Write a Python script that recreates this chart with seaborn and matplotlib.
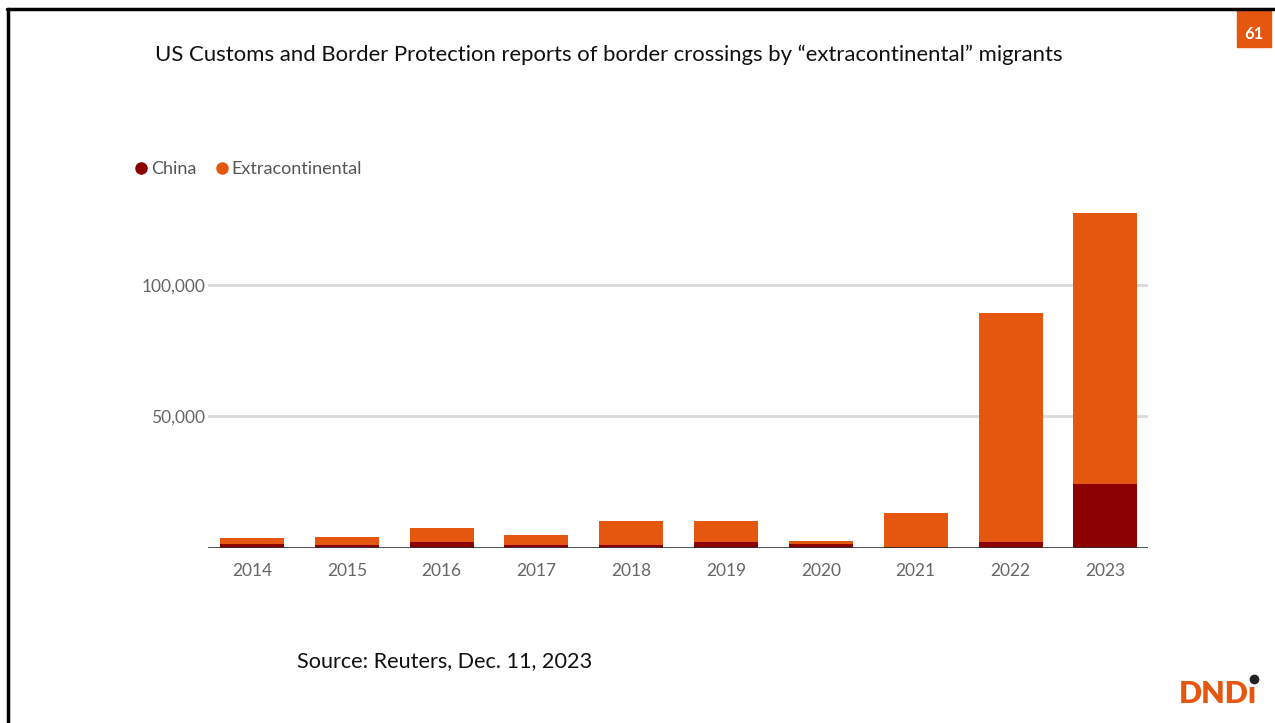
import matplotlib
matplotlib.use("Agg")
import matplotlib.pyplot as plt
from matplotlib.lines import Line2D
import seaborn as sns
import pandas as pd

years = ["2014", "2015", "2016", "2017", "2018", "2019", "2020", "2021", "2022", "2023"]
china = [1600, 1250, 2400, 1250, 1000, 2100, 1500, 500, 2100, 24300]
extracontinental_total = [3900, 4300, 7700, 4800, 10250, 10250, 2650, 13150, 89300, 127400]

ORANGE = "#E5560F"
DARKRED = "#8B0000"
GREY = "#666666"

sns.set_theme(style="white")
plt.rcParams["font.family"] = ["Lato", "DejaVu Sans"]

df = pd.DataFrame({"year": years, "China": china, "Extracontinental": extracontinental_total})

fig = plt.figure(figsize=(12.75, 7.23), dpi=100)
ax = fig.add_axes([208 / 1275, 1 - 548 / 723, (1148 - 208) / 1275, (548 - 206) / 723])

sns.barplot(data=df, x="year", y="Extracontinental", color=ORANGE, width=0.675,
            saturation=1, ax=ax, edgecolor="none")
sns.barplot(data=df, x="year", y="China", color=DARKRED, width=0.675,
            saturation=1, ax=ax, edgecolor="none")

ax.set_xlim(-0.464, 9.45)
ax.set_ylim(0, 130000)
ax.set_yticks([50000, 100000])
ax.set_yticklabels(["50,000", "100,000"])
for y in [50000, 100000]:
    ax.axhline(y, color="#d9d9d9", lw=2, zorder=0)
ax.axhline(0, color="#333333", lw=1.2, zorder=5)
for s in ax.spines.values():
    s.set_visible(False)
ax.set_xlabel("")
ax.set_ylabel("")
ax.tick_params(axis="both", length=0, labelsize=12.5, colors=GREY)
ax.tick_params(axis="x", pad=11)
ax.tick_params(axis="y", pad=2)

# Title
fig.text(155 / 1275, 1 - 55 / 723, "US Customs and Border Protection reports of border crossings by \u201cextracontinental\u201d migrants",
         fontsize=15.9, color="#111111", va="center", ha="left")

# Legend
handles = [Line2D([0], [0], marker="o", ls="none", color=DARKRED, markersize=8, label="China"),
           Line2D([0], [0], marker="o", ls="none", color=ORANGE, markersize=8, label="Extracontinental")]
fig.legend(handles=handles, loc="center left", bbox_to_anchor=(132 / 1275, 1 - 169 / 723), ncol=2,
           frameon=False, fontsize=13, labelcolor="#555555", handletextpad=0.05,
           columnspacing=0.9, handlelength=1.0, borderaxespad=0, borderpad=0)

# Source
fig.text(297 / 1275, 1 - 661 / 723, "Source: Reuters, Dec. 11, 2023", fontsize=15.6,
         color="#111111", va="center", ha="left")

# Slide borders
fig.add_artist(Line2D([7 / 1275, 1], [1 - 9 / 723, 1 - 9 / 723], color="black", lw=2.5))
fig.add_artist(Line2D([8 / 1275, 8 / 1275], [0, 1 - 9 / 723], color="black", lw=2.5))

# Page number box
fig.patches.append(plt.Rectangle((1237 / 1275, 1 - 47 / 723), 34 / 1275, 37 / 723,
                                 transform=fig.transFigure, color=ORANGE, figure=fig))
fig.text(1254 / 1275, 1 - 34 / 723, "61", fontsize=12, fontweight="bold", color="white",
         ha="center", va="center")

# Logo
fig.text(1218 / 1275, 1 - 694 / 723, "DNDı", fontsize=22, fontweight="heavy", color=ORANGE,
         ha="center", va="center")
fig.add_artist(Line2D([1254 / 1275], [1 - 679 / 723], marker="o", color="#222222", markersize=6))

fig.savefig("out.png", dpi=100)
